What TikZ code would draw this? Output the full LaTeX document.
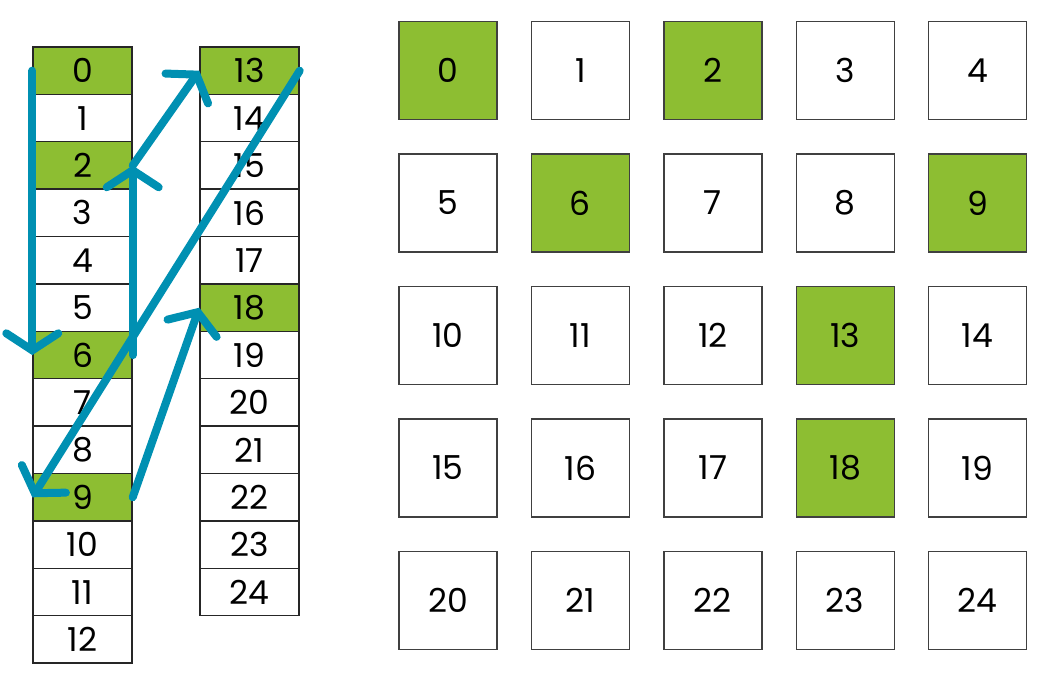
\documentclass[tikz,border=0pt]{standalone}
\usepackage{fontspec}
\setmainfont{Poppins}
\usetikzlibrary{arrows.meta, positioning}
\definecolor{leaf}{RGB}{141,190,50}
\definecolor{teal}{RGB}{0,144,178}
\tikzset{> = { Straight Barb[length = 8.5pt, width = 26pt, line cap = round] }}
\tikzset{
	cell/.style = {draw = black!85, line width = 0.7pt, minimum width = 49.5pt, minimum height = 23.7pt, inner sep = 0pt, font = \fontsize{16.5}{18}\selectfont},
	tile/.style = {draw = black!75, line width = 0.7pt, minimum size = 49pt, inner sep = 0pt, font = \fontsize{16.5}{18}\selectfont},
	hit/.style = {fill = leaf},
	path/.style = {draw = teal, line width = 4pt, line cap = round, ->}
}

\begin{document}
\begin{tikzpicture}[x = 0.5pt, y = -0.5pt]
		\useasboundingbox (0, 0) rectangle (1041, 678);
		% memory layout, two columns
		\foreach \i in {0, ..., 12} {
			\node [cell] (c\i) at (82.5, 70.7 + 47.4*\i) {\i};
		}
		\foreach \i in {13, ..., 24} {
			\node [cell] (c\i) at (249.5, 70.7 + 47.4*\i - 47.4*13) {\i};
		}
		\foreach \i in {0, 2, 6, 9, 13, 18} {
			\node [cell, hit] at (c\i) {\i};
		}

		% 5 x 5 grid
		\foreach \r in {0, ..., 4} {
			\foreach \c in {0, ..., 4} {
				\pgfmathtruncatemacro{\k}{5*\r + \c}
				\node [tile] (g\k) at (448 + 132.4*\c, 70.5 + 132.5*\r) {\k};
			}
		}
		\foreach \k in {0, 2, 6, 9, 13, 18} {
			\node [tile, hit] at (g\k) {\k};
		}

		% access order
		\draw [path] (c0.west) -- (c6.west);
		\draw [path] (c6.east) -- (c2.east);
		\draw [path] (c2.east) -- (c13.west);
		\draw [path] (c13.east) -- (c9.west);
		\draw [path] (c9.east) -- (c18.west);
	\end{tikzpicture}
\end{document}
